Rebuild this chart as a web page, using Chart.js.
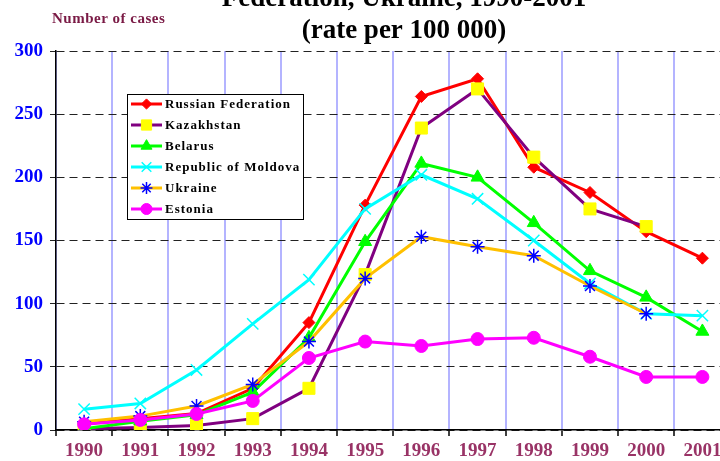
<!DOCTYPE html>
<html>
<head>
<meta charset="utf-8">
<script src="https://cdn.jsdelivr.net/npm/chart.js@4.4.0/dist/chart.umd.min.js"></script>
<style>
  html, body { margin: 0; padding: 0; background: #fff; overflow: hidden; }
  #wrap { position: relative; width: 740px; height: 461px; }
</style>
</head>
<body>
<div id="wrap"><canvas id="chart"></canvas></div>
<script>
// values (rate per 100 000)
const years = ['1990', '1991', '1992', '1993', '1994', '1995', '1996', '1997', '1998', '1999', '2000', '2001'];
const russia = [5, 9, 13, 33, 85, 178, 264, 278, 208, 188, 157, 136];
const kazakhstan = [1, 2, 3.5, 9, 33, 123, 239, 270, 216, 175, 161, null];
const belarus = [1, 7, 12, 30, 73, 149, 211, 200, 164, 126, 105, 78];
const moldova = [16.5, 21, 47.5, 84, 119, 175, 202, 183, 150, 116, 92, 90.5];
const ukraine = [6.6, 11, 19, 36, 70, 120, 153, 145, 138, 114, 92, null];
const estonia = [4.5, 8, 12.7, 23, 57, 70, 66.5, 72, 73, 58, 42, 42];

const yTicks = [0, 50, 100, 150, 200, 250, 300];
const titleLines = ['Federation, Ukraine, 1990-2001', '(rate per 100 000)'];
const yTitle = 'Number of cases';

const SERIF = '"Liberation Serif", "Times New Roman", serif';

function series(label, data, line, style, fill, edge, radius, order) {
    return {
        label: label,
        data: data,
        borderColor: line,
        borderWidth: 3,
        tension: 0,
        spanGaps: false,
        pointStyle: style,
        pointRadius: radius,
        pointHoverRadius: radius,
        pointBackgroundColor: fill,
        pointBorderColor: edge,
        pointBorderWidth: style === 'crossRot' || style === 'star' ? 1.5 : 1,
        order: order
    };
}

const datasets = [
    series('Russian Federation', russia, '#ff0000', 'rectRot', '#ff0000', '#ff0000', 6, 5),
    series('Kazakhstan', kazakhstan, '#800080', 'rect', '#ffff00', '#ffff00', 8.5, 4),
    series('Belarus', belarus, '#00ff00', 'triangle', '#00ff00', '#00ff00', 7.5, 3),
    series('Republic of Moldova', moldova, '#00ffff', 'crossRot', '#00ffff', '#00ffff', 8, 2),
    series('Ukraine', ukraine, '#ffc000', 'star', '#0000ff', '#0000ff', 7, 1),
    series('Estonia', estonia, '#ff00ff', 'circle', '#ff00ff', '#ff00ff', 6.5, 0)
];

// titles and the boxed legend are drawn by hand, like in the original sheet
const decorations = {
    id: 'decorations',
    afterDraw(chart) {
        const ctx = chart.ctx;
        ctx.save();
        ctx.fillStyle = '#000';
        ctx.textAlign = 'center';
        ctx.textBaseline = 'alphabetic';
        ctx.font = 'bold 27px ' + SERIF;
        ctx.fillText(titleLines[0], 404, 6);
        ctx.fillText(titleLines[1], 404, 38);

        ctx.fillStyle = '#7a1a45';
        ctx.textAlign = 'left';
        ctx.font = 'bold 15px ' + SERIF;
        ctx.letterSpacing = '0.5px';
        ctx.fillText(yTitle, 52, 23);

        // legend box
        const bx = 127, by = 94, bw = 176, bh = 125;
        ctx.fillStyle = '#fff';
        ctx.fillRect(bx, by, bw, bh);
        ctx.strokeStyle = '#000';
        ctx.lineWidth = 1;
        ctx.strokeRect(bx + 0.5, by + 0.5, bw, bh);

        ctx.font = 'bold 13px ' + SERIF;
        ctx.letterSpacing = '1px';
        ctx.textBaseline = 'middle';
        datasets.forEach((ds, i) => {
            const y = 104 + i * 21;
            ctx.strokeStyle = ds.borderColor;
            ctx.lineWidth = 3;
            ctx.beginPath();
            ctx.moveTo(131, y);
            ctx.lineTo(162, y);
            ctx.stroke();
            ctx.fillStyle = ds.pointBackgroundColor;
            ctx.strokeStyle = ds.pointBorderColor;
            ctx.lineWidth = ds.pointBorderWidth;
            Chart.helpers.drawPoint(ctx, {
                pointStyle: ds.pointStyle,
                radius: ds.pointRadius * 0.85,
                rotation: 0,
                borderWidth: ds.pointBorderWidth
            }, 146.5, y);
            ctx.fillStyle = '#000';
            ctx.fillText(ds.label, 165, y + 1);
        });
        ctx.restore();
    }
};

const canvas = document.getElementById('chart');
const myChart = new Chart(canvas, {
    type: 'line',
    data: {
        labels: years,
        datasets: datasets
    },
    options: {
        responsive: true,
        maintainAspectRatio: false,
        animation: false,
        events: [],
        layout: { padding: { top: 51, right: 7, left: 0, bottom: 0 } },
        plugins: {
            legend: { display: false },
            title: { display: false },
            tooltip: { enabled: false }
        },
        scales: {
            x: {
                offset: true,
                grid: {
                    offset: true,
                    color: '#b4b4ff',
                    lineWidth: 2,
                    tickColor: '#000',
                    tickWidth: 1.5,
                    tickLength: 6
                },
                border: { color: '#000', width: 1.5 },
                ticks: {
                    color: '#993366',
                    font: { family: SERIF, size: 19, weight: 'bold' },
                    padding: 4,
                    maxRotation: 0,
                    autoSkip: false
                },
                afterFit(scale) { scale.height = 31; }
            },
            y: {
                min: 0,
                max: 300,
                afterBuildTicks(scale) {
                    scale.ticks = yTicks.map(v => ({ value: v }));
                },
                grid: {
                    color: '#222',
                    lineWidth: 1,
                    tickColor: '#222',
                    tickLength: 6
                },
                border: { color: '#000', width: 1.5, dash: [8, 5] },
                ticks: {
                    color: '#0000ff',
                    font: { family: SERIF, size: 19, weight: 'bold' },
                    padding: 7
                },
                afterFit(scale) { scale.width = 56; }
            }
        }
    },
    plugins: [decorations]
});
</script>
</body>
</html>
